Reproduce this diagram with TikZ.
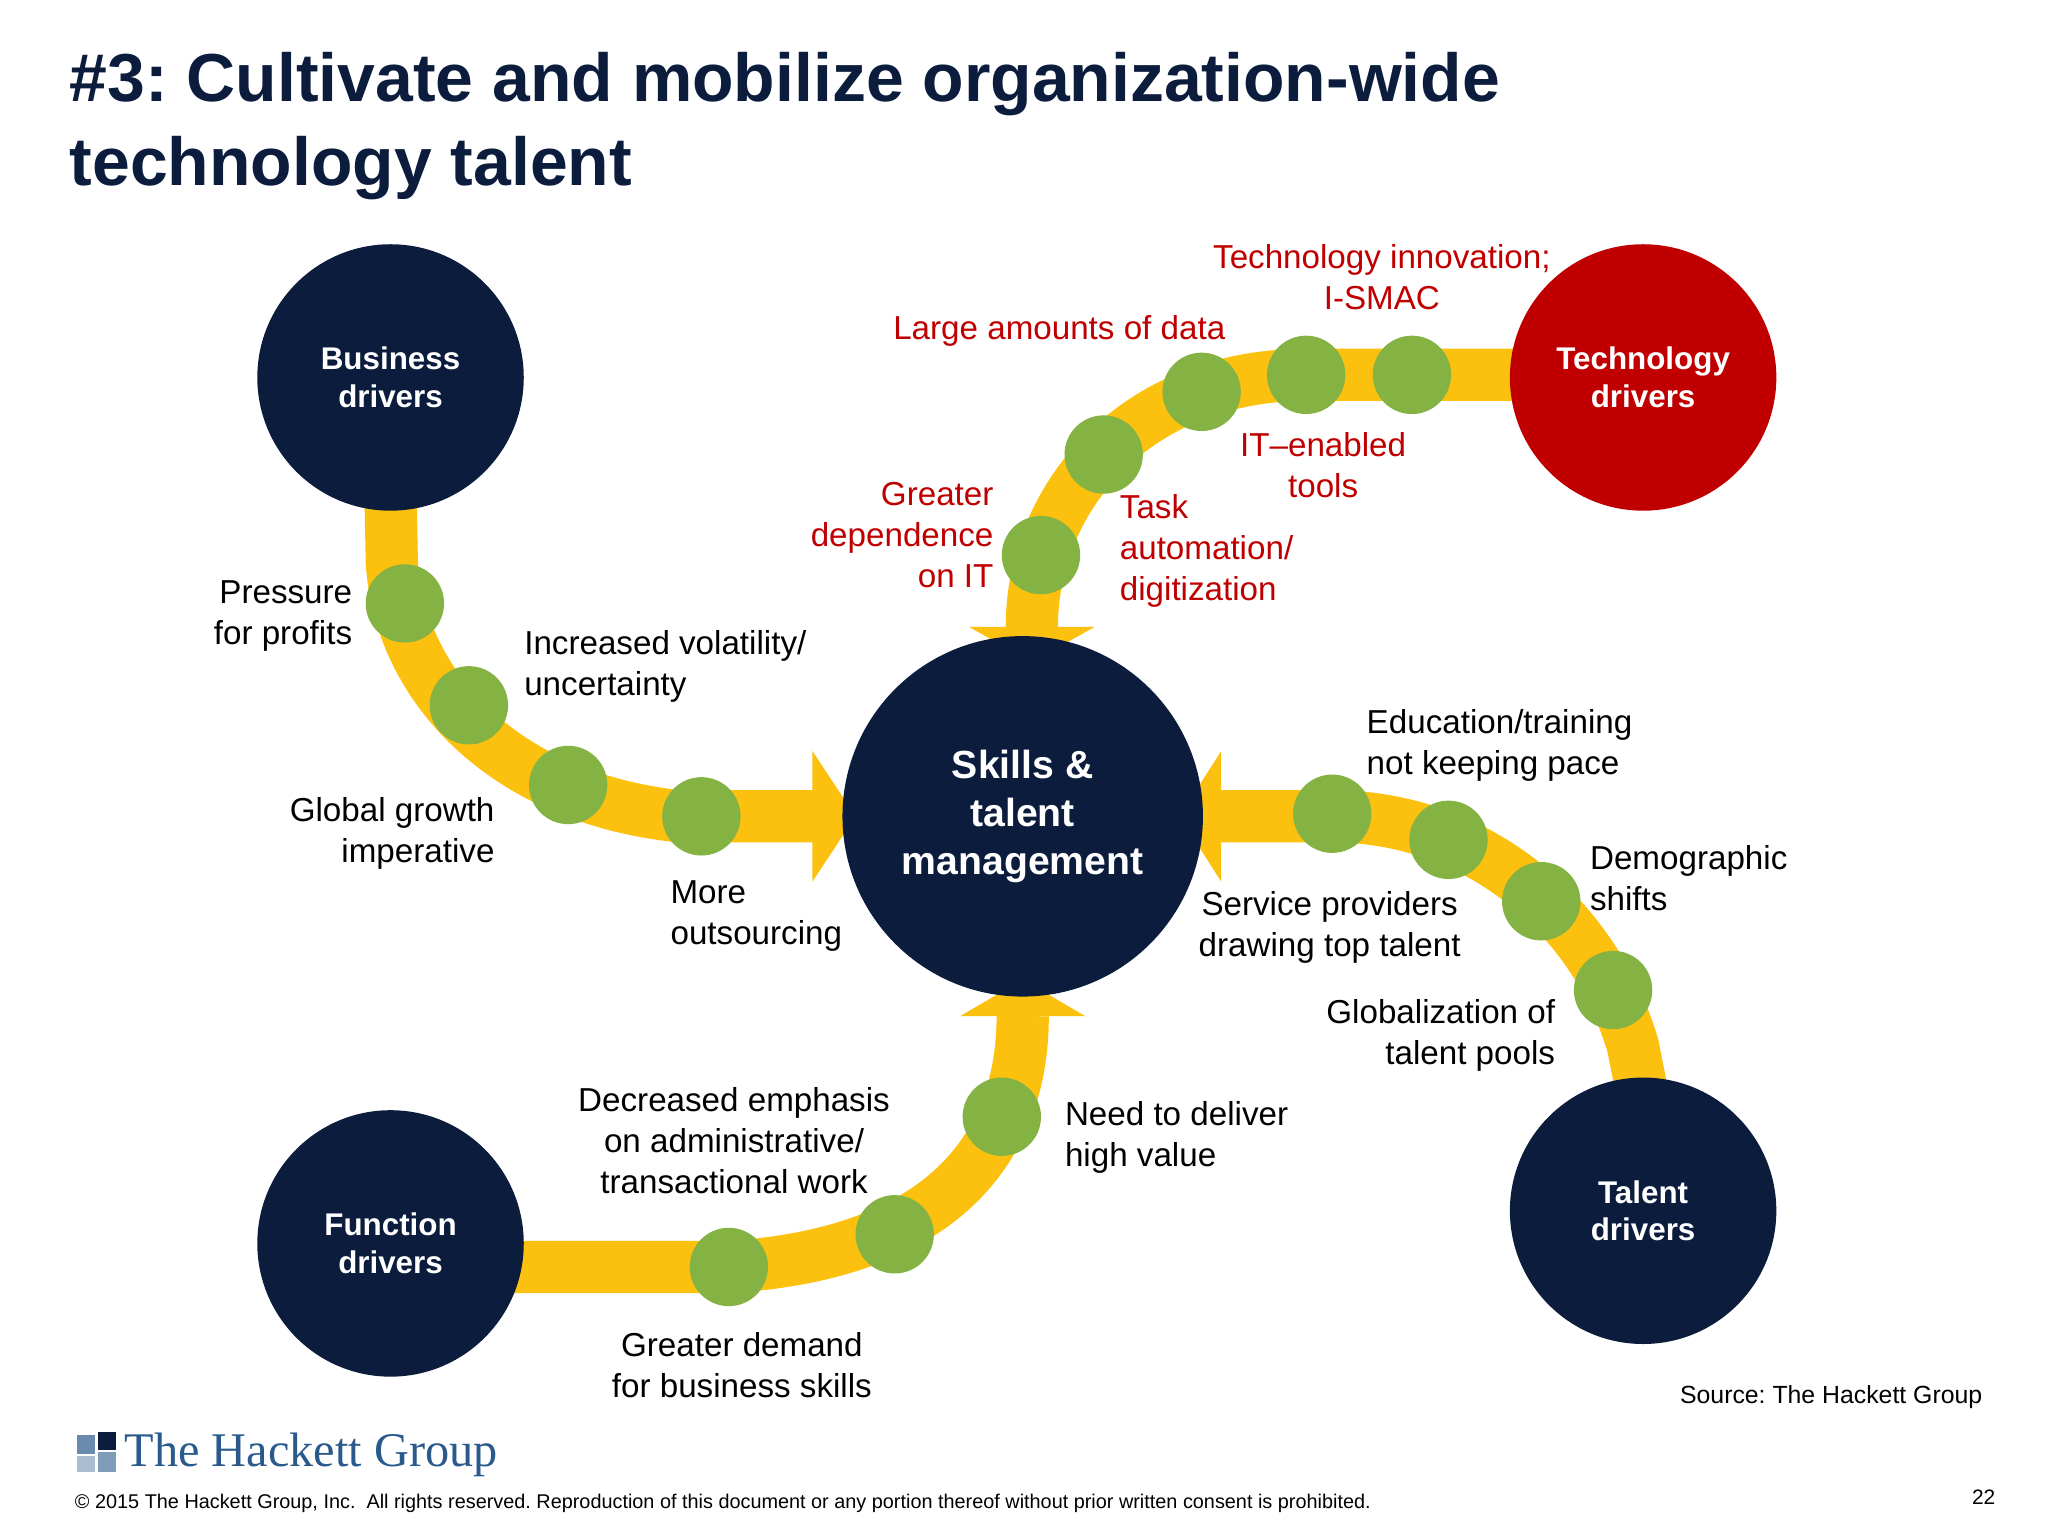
\documentclass[tikz,border=0pt]{standalone}
\usepackage{fontspec}
\setmainfont{Liberation Sans}
\newfontfamily\logofont{Liberation Serif}
\frenchspacing
\begin{document}
\begin{tikzpicture}[x=0.5pt,y=-0.5pt,
  big/.style={circle,fill=navyc,minimum size=102pt,inner sep=0pt,text=white,font=\bfseries\fontsize{12}{14.5}\selectfont,align=center},
  road/.style={draw=yel,line width=20pt},
  dot/.style={circle,fill=grn,minimum size=30pt,inner sep=0pt},
  lbl/.style={font=\fontsize{12.7}{15.7}\selectfont,text=black,inner sep=0pt},
  rlbl/.style={lbl,text=redc},
  head/.style={fill=yel}]
\definecolor{navyc}{HTML}{0B1C3D}
\definecolor{yel}{HTML}{FCC10E}
\definecolor{grn}{HTML}{84B344}
\definecolor{redc}{HTML}{C00000}
\definecolor{logoc}{HTML}{2A5A8C}
\useasboundingbox (0,0) rectangle (1568,1176);
\fill[white] (0,0) rectangle (1568,1176);
\node[anchor=north west,align=left,inner sep=0pt,text=navyc,font=\bfseries\fontsize{26}{32}\selectfont] (title) at (53,40) {\#3: Cultivate and mobilize organization-wide\\technology talent};
% roads
\draw[road] (299,380) -- (300,430) .. controls (305,520) and (380,610) .. (520,625) -- (625,625);
\fill[head] (622,575) -- (655,625) -- (622,675) -- cycle;
\draw[road] (1170,287) -- (1000,287) .. controls (870,287) and (790,380) .. (790,480);
\fill[head] (742,480) -- (790,507) -- (838,480) -- cycle;
\draw[road] (390,970) -- (558,970) .. controls (720,960) and (783,880) .. (783,778);
\fill[head] (735,778) -- (783,750) -- (831,778) -- cycle;
\draw[road] (1258,840) -- (1250,800) .. controls (1220,700) and (1130,625) .. (1020,625) -- (932,625);
\fill[head] (935,575) -- (903,625) -- (935,675) -- cycle;
% circles
\node[big] (bus) at (299,289) {Business\\drivers};
\node[big,fill=redc] (tech) at (1258,289) {Technology\\drivers};
\node[big] (fun) at (299,952) {Function\\drivers};
\node[big] (tal) at (1258,927) {Talent\\drivers};
\node[big,minimum size=138pt,font=\bfseries\fontsize{15}{18.5}\selectfont] (ctr) at (783,625) {Skills \&\\talent\\management};
% dots
\foreach \n/\p in {b1/{(310,462)},b2/{(359,540)},b3/{(435,601)},b4/{(537,625)},
  t1/{(1081,287)},t2/{(1000,287)},t3/{(920,300)},t4/{(845,348)},t5/{(797,425)},
  f1/{(558,970)},f2/{(685,945)},f3/{(767,855)},
  a1/{(1020,623)},a2/{(1109,643)},a3/{(1180,690)},a4/{(1235,758)}}
  \node[dot] (\n) at \p {};
% labels
\node[lbl,anchor=east,align=right] (l1) at (270,472) {Pressure\\for profits};
\node[lbl,anchor=west,align=left] (l2) at (401,510) {Increased volatility/\\uncertainty};
\node[lbl,anchor=east,align=right] (l3) at (379,638) {Global growth\\imperative};
\node[lbl,anchor=west,align=left] (l4) at (513,701) {More\\outsourcing};
\node[rlbl,align=center] (r1) at (811,253) {Large amounts of data};
\node[rlbl,align=center] (r2) at (1058,212) {Technology innovation;\\I-SMAC};
\node[rlbl,align=center] (r3) at (1013,356) {IT–enabled\\tools};
\node[rlbl,anchor=east,align=right] (r4) at (761,410) {Greater\\dependence\\on IT};
\node[rlbl,anchor=west,align=left] (r5) at (857,422) {Task\\automation/\\digitization};
\node[lbl,anchor=west,align=left] (e1) at (1046,571) {Education/training\\not keeping pace};
\node[lbl,anchor=west,align=left] (e2) at (1217,672) {Demographic\\shifts};
\node[lbl,align=center] (e3) at (1018,710) {Service providers\\drawing top talent};
\node[lbl,anchor=east,align=right] (e4) at (1191,793) {Globalization of\\talent pools};
\node[lbl,align=center] (g1) at (562,873) {Decreased emphasis\\on administrative/\\transactional work};
\node[lbl,anchor=west,align=left] (g2) at (815,871) {Need to deliver\\high value};
\node[lbl,align=center] (g3) at (568,1045) {Greater demand\\for business skills};
\node[anchor=east,inner sep=0pt,font=\fontsize{9.5}{11}\selectfont] (src) at (1518,1070) {Source: The Hackett Group};
% footer
\fill[logoc!70] (59,1099) rectangle (73,1113);
\fill[navyc] (75,1096) rectangle (89,1110);
\fill[logoc!40] (59,1115) rectangle (73,1127);
\fill[logoc!60] (75,1112) rectangle (89,1127);
\node[anchor=west,inner sep=0pt,text=logoc,font=\logofont\fontsize{18.5}{20}\selectfont] (logo) at (95,1114) {The Hackett Group};
\node[anchor=west,inner sep=0pt,font=\fontsize{7.6}{8}\selectfont] (copy) at (57,1151) {© 2015 The Hackett Group, Inc.\ \ All rights reserved. Reproduction of this document or any portion thereof without prior written consent is prohibited.};
\node[anchor=east,inner sep=0pt,font=\fontsize{8}{9}\selectfont] (pg) at (1528,1146) {22};
\end{tikzpicture}
\end{document}
